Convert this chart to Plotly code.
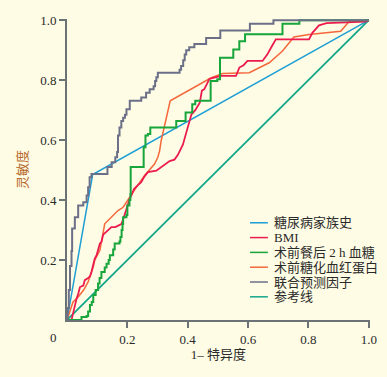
import plotly.graph_objects as go

# ---------------- data (ROC points) ----------------
series_names = ["糖尿病家族史", "BMI", "术前餐后 2 h 血糖", "术前糖化血红蛋白", "联合预测因子", "参考线"]
series_colors = ["#1e9fd6", "#ec1b4f", "#17a53c", "#f4683c", "#6b7088", "#12a68a"]

family_fpr = [0, 0.085, 1.0]
family_tpr = [0, 0.485, 1.0]

bmi_fpr = [0, 0.015, 0.02, 0.026, 0.032, 0.038, 0.043, 0.054, 0.059, 0.07, 0.076, 0.081, 0.087, 0.092,
           0.098, 0.103, 0.109, 0.114, 0.12, 0.131, 0.137, 0.147, 0.16, 0.17, 0.18, 0.186, 0.192, 0.197,
           0.203, 0.208, 0.215, 0.222, 0.235, 0.246, 0.255, 0.268, 0.296, 0.318, 0.34, 0.356, 0.367, 0.384,
           0.395, 0.405, 0.412, 0.425, 0.44, 0.447, 0.455, 0.466, 0.472, 0.494, 0.51, 0.56, 0.571, 0.585,
           0.598, 0.648, 0.664, 0.676, 0.692, 0.802, 0.813, 0.835, 0.86, 0.99, 1.0]
bmi_tpr = [0, 0, 0.022, 0.05, 0.072, 0.09, 0.11, 0.115, 0.133, 0.14, 0.145, 0.16, 0.188, 0.205,
           0.216, 0.235, 0.255, 0.26, 0.285, 0.295, 0.30, 0.31, 0.31, 0.315, 0.32, 0.335, 0.355, 0.376,
           0.39, 0.405, 0.42, 0.437, 0.45, 0.46, 0.476, 0.493, 0.498, 0.515, 0.53, 0.535, 0.55, 0.585,
           0.62, 0.66, 0.685, 0.70, 0.725, 0.765, 0.77, 0.795, 0.804, 0.81, 0.814, 0.814, 0.842, 0.85,
           0.864, 0.864, 0.886, 0.908, 0.936, 0.936, 0.958, 0.983, 0.99, 0.995, 1.0]

glucose_fpr = [0, 0.043, 0.048, 0.065, 0.07, 0.076, 0.082, 0.087, 0.095, 0.103, 0.108, 0.114, 0.125,
               0.131, 0.138, 0.142, 0.153, 0.158, 0.174, 0.177, 0.181, 0.184, 0.186, 0.197, 0.2, 0.207,
               0.21, 0.211, 0.254, 0.26, 0.268, 0.276, 0.362, 0.393, 0.415, 0.425, 0.476, 0.498, 0.507,
               0.551, 0.571, 0.59, 0.714, 0.77, 1.0]
glucose_tpr = [0, 0, 0.01, 0.013, 0.028, 0.05, 0.06, 0.083, 0.10, 0.122, 0.14, 0.16, 0.175,
               0.188, 0.20, 0.216, 0.235, 0.255, 0.262, 0.277, 0.30, 0.32, 0.343, 0.35, 0.382, 0.40,
               0.42, 0.51, 0.576, 0.615, 0.62, 0.642, 0.664, 0.692, 0.72, 0.731, 0.797, 0.803, 0.875,
               0.902, 0.93, 0.953, 0.988, 1.0, 1.0]

hba1c_fpr = [0, 0.02, 0.037, 0.055, 0.07, 0.081, 0.087, 0.092, 0.098, 0.109, 0.114, 0.12, 0.125, 0.136,
             0.153, 0.169, 0.186, 0.197, 0.202, 0.23, 0.257, 0.274, 0.29, 0.301, 0.307, 0.312, 0.327,
             0.342, 0.478, 0.516, 0.604, 0.637, 0.67, 0.714, 0.752, 0.802, 0.907, 0.934, 0.993, 1.0]
hba1c_tpr = [0, 0.06, 0.077, 0.10, 0.127, 0.155, 0.177, 0.2, 0.213, 0.233, 0.26, 0.293, 0.321, 0.332,
             0.349, 0.365, 0.376, 0.393, 0.404, 0.443, 0.482, 0.50, 0.52, 0.543, 0.565, 0.598, 0.664,
             0.731, 0.808, 0.822, 0.825, 0.842, 0.858, 0.897, 0.944, 0.952, 0.963, 0.995, 1.0, 1.0]

combined_fpr = [0, 0.002, 0.006, 0.010, 0.015, 0.017, 0.026, 0.037, 0.054, 0.065, 0.070, 0.075, 0.081,
                0.134, 0.148, 0.160, 0.166, 0.169, 0.174, 0.180, 0.186, 0.192, 0.197, 0.208, 0.246,
                0.262, 0.274, 0.287, 0.292, 0.296, 0.301, 0.373, 0.378, 0.385, 0.390, 0.395, 0.405,
                0.422, 0.461, 0.508, 0.606, 0.684, 0.775, 1.0]
combined_tpr = [0, 0.04, 0.10, 0.18, 0.23, 0.305, 0.343, 0.382, 0.393, 0.415, 0.443, 0.476, 0.487,
                0.51, 0.526, 0.543, 0.56, 0.615, 0.642, 0.664, 0.675, 0.685, 0.703, 0.731, 0.742,
                0.758, 0.77, 0.78, 0.797, 0.81, 0.825, 0.835, 0.847, 0.866, 0.886, 0.90, 0.91,
                0.921, 0.941, 0.966, 0.988, 1.0, 1.0, 1.0]

reference_fpr = [0, 1]
reference_tpr = [0, 1]

x_tick_vals = [0.2, 0.4, 0.6, 0.8, 1.0]
y_tick_vals = [0.2, 0.4, 0.6, 0.8, 1.0]

# ---------------- figure ----------------
BG = "#FEFCE4"
AXIS = "#6b7377"
FONT = "Liberation Serif, Noto Sans CJK SC, serif"

data = {
    "糖尿病家族史": (family_fpr, family_tpr, 1.5, "linear"),
    "BMI": (bmi_fpr, bmi_tpr, 1.8, "linear"),
    "术前餐后 2 h 血糖": (glucose_fpr, glucose_tpr, 2.0, "hv"),
    "术前糖化血红蛋白": (hba1c_fpr, hba1c_tpr, 1.5, "linear"),
    "联合预测因子": (combined_fpr, combined_tpr, 2.0, "hv"),
    "参考线": (reference_fpr, reference_tpr, 1.8, "linear"),
}
color_of = dict(zip(series_names, series_colors))
draw_order = ["参考线", "糖尿病家族史", "术前糖化血红蛋白", "BMI", "术前餐后 2 h 血糖", "联合预测因子"]

fig = go.Figure()
for name in draw_order:
    xs, ys, w, shp = data[name]
    fig.add_trace(go.Scatter(x=xs, y=ys, mode="lines", name=name, showlegend=False,
                             line=dict(color=color_of[name], width=w, shape=shp)))

# compact legend (lines + text)
row0 = 0.323
step = 0.0492
for i, name in enumerate(series_names):
    yy = row0 - i * step
    fig.add_shape(type="line", xref="paper", yref="paper", x0=0.604, x1=0.663, y0=yy, y1=yy,
                  line=dict(color=series_colors[i], width=1.5))
    fig.add_annotation(xref="paper", yref="paper", x=0.675, y=yy, text=name, showarrow=False,
                       xanchor="left", yanchor="middle", font=dict(family=FONT, size=13, color="#2a2a2a"))

# lone "0" at the origin corner
fig.add_annotation(xref="paper", yref="paper", x=-0.045, y=-0.057, text="0", showarrow=False,
                   xanchor="center", yanchor="middle", font=dict(family=FONT, size=13, color="#2a2a2a"))

axis_common = dict(showline=True, linecolor=AXIS, linewidth=2, ticks="outside", ticklen=6,
                   tickwidth=2, tickcolor=AXIS, showgrid=False, zeroline=False,
                   tickformat=".1f", tickfont=dict(family=FONT, size=13, color="#2a2a2a"),
                   automargin=False, fixedrange=True)

fig.update_layout(
    width=387, height=377,
    margin=dict(l=67, r=17, t=19, b=57),
    paper_bgcolor=BG, plot_bgcolor=BG,
    showlegend=False,
    xaxis=dict(range=[0, 1.004], tickvals=x_tick_vals,
               title=dict(text="1– 特异度", standoff=3, font=dict(family=FONT, size=13, color="#2a2a2a")),
               **axis_common),
    yaxis=dict(range=[0, 1.004], tickvals=y_tick_vals,
               title=dict(text="灵敏度", standoff=10, font=dict(family=FONT, size=13, color="#b86a2c")),
               **axis_common),
)

fig.write_html("out.html", config={"displayModeBar": False},
               post_script="document.body.style.margin='0';document.body.style.background='#FEFCE4';")
